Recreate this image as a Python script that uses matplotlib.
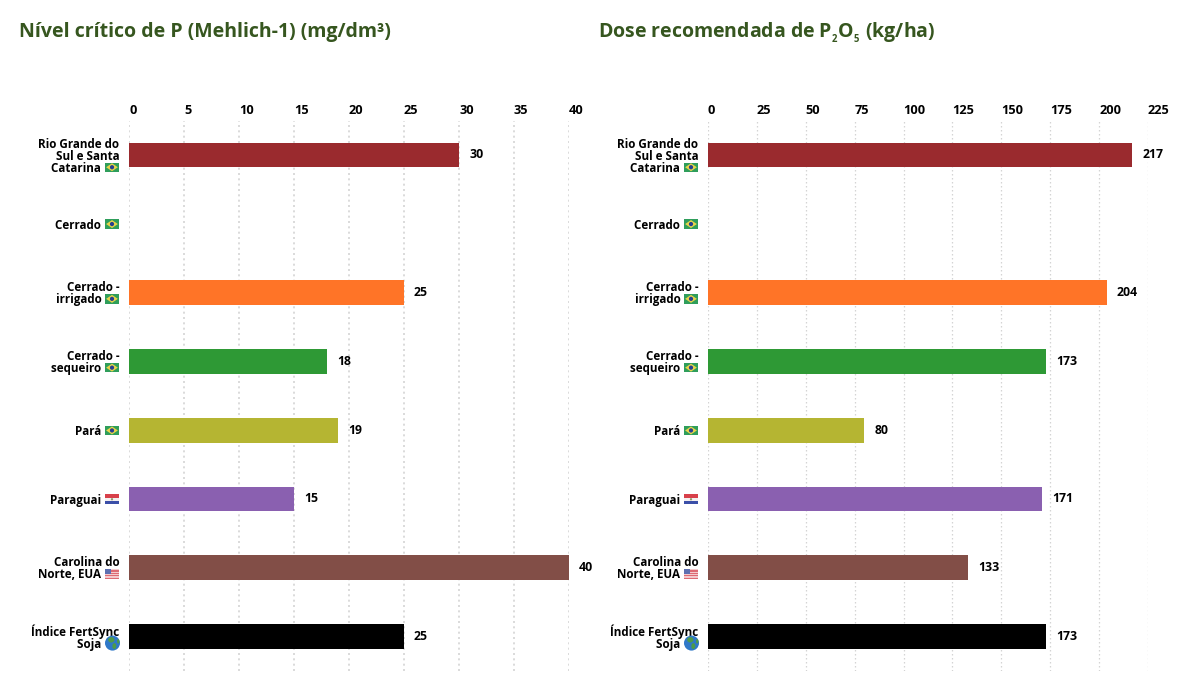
import numpy as np
import matplotlib
matplotlib.use("Agg")
import matplotlib.pyplot as plt
from matplotlib.patches import Rectangle, Polygon, Ellipse
from matplotlib.transforms import Affine2D

FONT = "Open Sans"
plt.rcParams["font.family"] = FONT
plt.rcParams["font.weight"] = "bold"
plt.rcParams["mathtext.fontset"] = "custom"
plt.rcParams["mathtext.rm"] = f"{FONT}:bold"
plt.rcParams["mathtext.bf"] = f"{FONT}:bold"
plt.rcParams["mathtext.default"] = "bf"

regions = [
    "Rio Grande do\nSul e Santa\nCatarina",
    "Cerrado",
    "Cerrado -\nirrigado",
    "Cerrado -\nsequeiro",
    "Pará",
    "Paraguai",
    "Carolina do\nNorte, EUA",
    "Índice FertSync\nSoja",
]
flags = ["br", "br", "br", "br", "br", "py", "us", "globe"]
critical_p = [30, np.nan, 25, 18, 19, 15, 40, 25]
p2o5_dose = [217, np.nan, 204, 173, 80, 171, 133, 173]
bar_colors = ["#9A2A2E", "#FFFFFF", "#FF7427", "#2E9935", "#B5B532",
              "#8A60B0", "#824E47", "#000000"]
p_ticks = list(range(0, 45, 5))
dose_ticks = list(range(0, 250, 25))
titles = ["Nível crítico de P (Mehlich-1) (mg/dm³)",
          r"Dose recomendada de P$_{_{2}}$O$_{_{5}}$ (kg/ha)"]

W, H = 1187, 681
TITLE_COLOR = "#36561F"
fig = plt.figure(figsize=(W / 100, H / 100), dpi=100, facecolor="white")


def add_flag(kind, x, y):
    """Small flag glyph with its lower left corner at display pixel (x, y)."""
    w, h = 14.0, 9.5
    if kind == "globe":
        w, h = 15.0, 15.0
        y -= 3
    tf = Affine2D().scale(w, h).translate(x, y)

    def put(p):
        p.set_transform(tf)
        p.set_clip_on(False)
        p.set_linewidth(0)
        p.set_zorder(5)
        fig.add_artist(p)

    if kind == "br":
        put(Rectangle((0, 0), 1, 1, fc="#2F9E5B"))
        put(Polygon([(0.08, 0.5), (0.5, 0.92), (0.92, 0.5), (0.5, 0.08)], fc="#E9D44A"))
        put(Ellipse((0.5, 0.5), 0.3, 0.45, fc="#27408F"))
    elif kind == "py":
        put(Rectangle((0, 0), 1, 1 / 3, fc="#3B4FA8"))
        put(Rectangle((0, 1 / 3), 1, 1 / 3, fc="#F4F0F0"))
        put(Rectangle((0, 2 / 3), 1, 1 / 3, fc="#D8404A"))
        put(Ellipse((0.5, 0.5), 0.16, 0.24, fc="#8C9A6A"))
    elif kind == "us":
        put(Rectangle((0, 0), 1, 1, fc="#F3C9CC"))
        for k in range(4):
            put(Rectangle((0, k * 0.25), 1, 0.13, fc="#DD6A72"))
        put(Rectangle((0, 0.46), 0.45, 0.54, fc="#5E6FB0"))
    else:
        put(Ellipse((0.5, 0.5), 1, 1, fc="#2F78C8"))
        put(Ellipse((0.42, 0.72), 0.42, 0.36, fc="#4E9A4A"))
        put(Ellipse((0.62, 0.3), 0.26, 0.4, fc="#4E9A4A"))
        put(Ellipse((0.88, 0.62), 0.16, 0.3, fc="#4E9A4A"))


def draw_panel(left_px, values, ticks, title, title_x, grid_width):
    ax = fig.add_axes([left_px / W, 1 - 671 / H, 440 / W, 550.4 / H])
    y = np.arange(len(regions))
    ax.set_ylim(len(regions) - 0.5, -0.5)
    ax.set_xlim(ticks[0], ticks[-1])
    for s in ax.spines.values():
        s.set_visible(False)
    ax.set_axisbelow(True)
    ax.grid(axis="x", color="#D4D4D4", linewidth=grid_width, linestyle=(0, (1.2, 2.0)))
    ax.grid(axis="y", visible=False)

    ax.barh(y, values, height=0.36, color=bar_colors, linewidth=0)
    for yi, v in zip(y, values):
        if not np.isnan(v):
            ax.annotate(f"{v:.0f}", (v, yi), xytext=(7.2, 0), textcoords="offset points",
                        ha="left", va="center", fontsize=8.8, color="black",
                        fontweight="bold", annotation_clip=False)

    ax.xaxis.tick_top()
    ax.set_xticks(ticks)
    ax.set_xticklabels([str(t) for t in ticks], ha="left", fontsize=9.2,
                       fontweight="bold", color="black")
    ax.tick_params(axis="x", length=0, pad=2.5)

    # Reserve room after each last line for the flag glyph.
    ax.set_yticks(y)
    ax.set_yticklabels([r + "\u00a0\u00a0\u00a0\u00a0\u00a0\u00a0" for r in regions],
                       fontsize=8.4, fontweight="bold", color="black", ha="right",
                       linespacing=0.9)
    ax.tick_params(axis="y", length=0, pad=7)

    for yi, region, kind in zip(y, regions, flags):
        n = region.count("\n") + 1
        px = ax.transData.transform((0, yi))
        base = px[1] - (n - 1) * 6.0 - 6.0
        add_flag(kind, left_px - 24, base + 1)

    fig.text(title_x / W, 1 - 37 / H, title, fontsize=14, fontweight="bold",
             color=TITLE_COLOR, ha="left", va="baseline")
    return ax


draw_panel(129, critical_p, p_ticks, titles[0], 19, 1.2)
draw_panel(708, p2o5_dose, dose_ticks, titles[1], 598, 0.9)

fig.savefig("out.png", dpi=100, facecolor="white")
